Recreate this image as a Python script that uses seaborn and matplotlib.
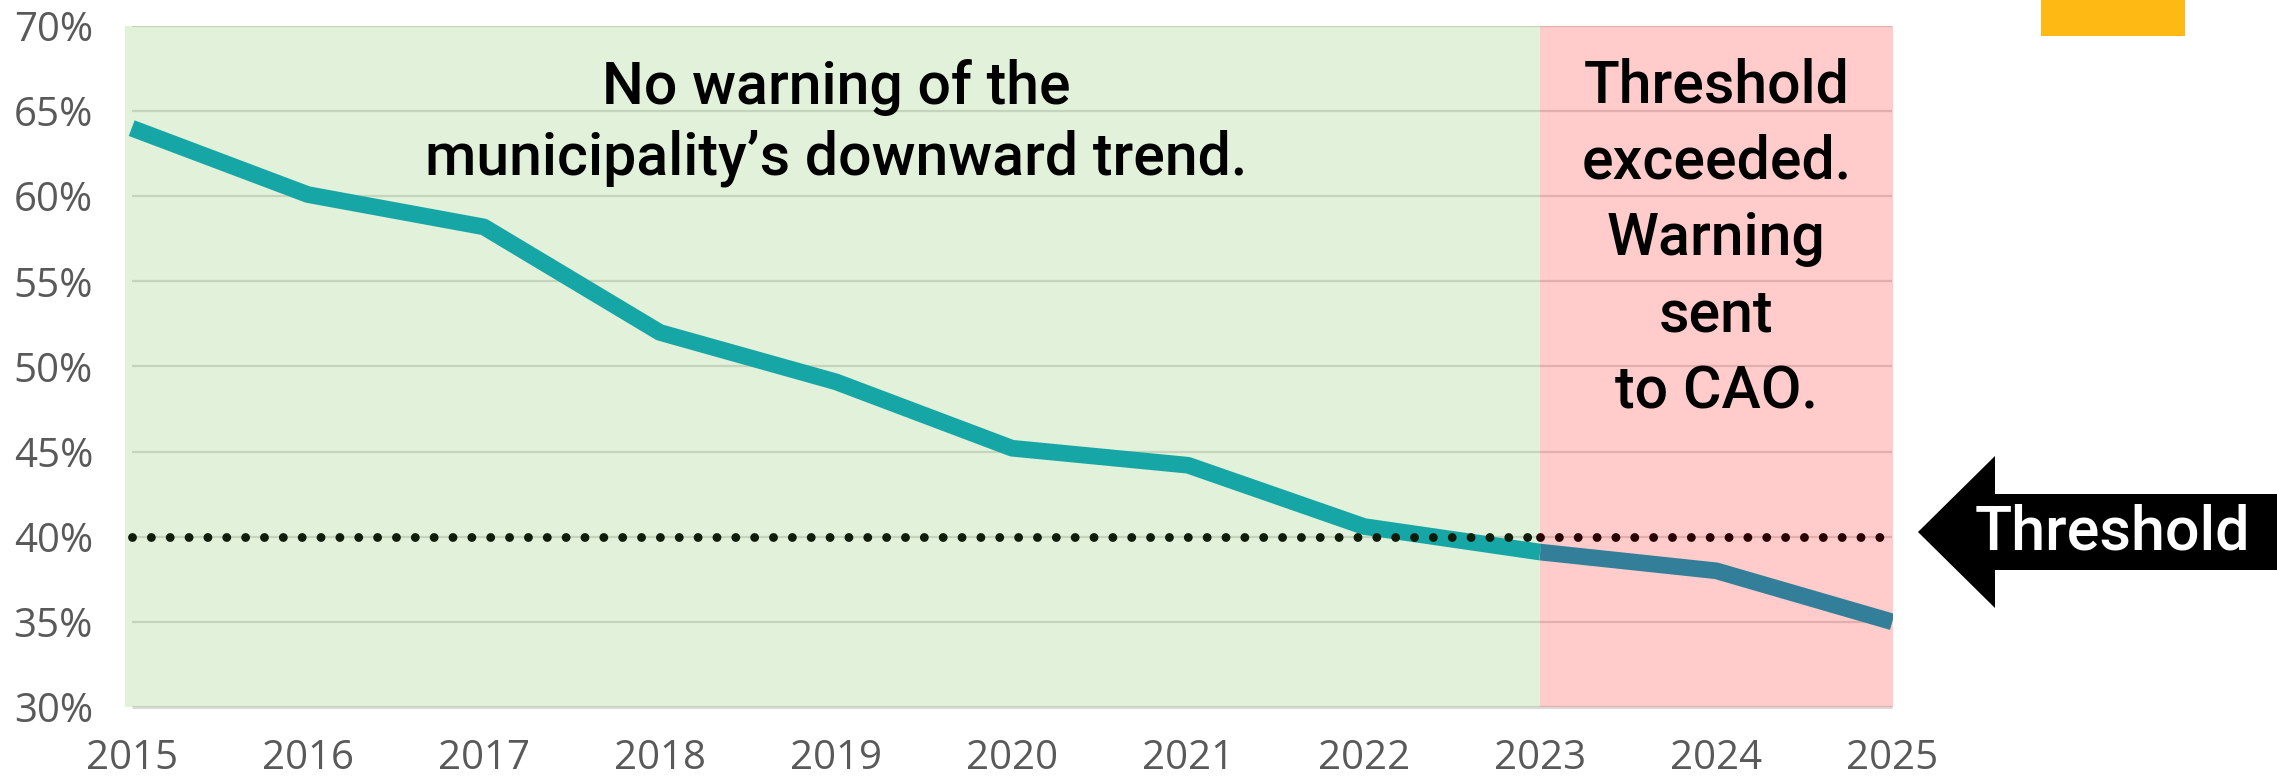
import numpy as np
import pandas as pd
import matplotlib
matplotlib.use("Agg")
import matplotlib.pyplot as plt
from matplotlib.patches import Polygon, Rectangle
import seaborn as sns

# data
years = [2015, 2016, 2017, 2018, 2019, 2020, 2021, 2022, 2023, 2024, 2025]
share = [64.0, 60.1, 58.2, 52.0, 49.1, 45.2, 44.2, 40.6, 39.1, 38.0, 35.0]
threshold = 40
warn_from = 2023
y_ticks = [30, 35, 40, 45, 50, 55, 60, 65, 70]
note_ok = "No warning of the\nmunicipality\u2019s downward trend."
note_bad = "Threshold\nexceeded.\nWarning\nsent\nto CAO."
arrow_label = "Threshold"

df = pd.DataFrame({"year": years, "share": share})
ok_part = df[df["year"] <= warn_from]
bad_part = df[df["year"] >= warn_from]

sns.set_theme(style="white")
plt.rcParams["font.family"] = ["Roboto", "DejaVu Sans"]

W, H = 2277, 780
fig = plt.figure(figsize=(W / 100, H / 100), dpi=100)
ax = fig.add_axes([125 / W, 1 - 707 / H, (1893 - 125) / W, (707 - 26) / H])

x0, x1 = years[0] - 0.038, years[-1] + 0.004
ax.set_xlim(x0, x1)
ax.set_ylim(y_ticks[0], y_ticks[-1])

# gridlines (under the shaded zones)
ax.hlines(y_ticks[1:], years[0], years[-1], color="#d9d9d9", lw=1.6, zorder=1)
ax.hlines(y_ticks[0], years[0], years[-1], color="#d9d9d9", lw=2.2, zorder=1, clip_on=False)

# shaded zones
ax.axvspan(x0, warn_from, color=(134 / 255, 197 / 255, 101 / 255), alpha=0.24, lw=0, zorder=2)
ax.axvspan(warn_from, x1, color=(1.0, 38 / 255, 38 / 255), alpha=0.24, lw=0, zorder=2)

# the trend line, two colours
sns.lineplot(data=ok_part, x="year", y="share", ax=ax, color="#17a6a6", lw=12,
             solid_capstyle="butt", solid_joinstyle="round", zorder=3, legend=False)
sns.lineplot(data=bad_part, x="year", y="share", ax=ax, color="#337f99", lw=12,
             solid_capstyle="butt", solid_joinstyle="round", zorder=3, legend=False)

# dotted threshold
ax.plot([years[0], warn_from], [threshold, threshold], color="#0f1c0a", lw=6.4,
        dashes=(0.001, 2.12), dash_capstyle="round", zorder=4)
ax.plot([warn_from, years[-1] - 0.03], [threshold, threshold], color="#280202", lw=6.4,
        dashes=(0.001, 2.12), dash_capstyle="round", zorder=4)

for s in ax.spines.values():
    s.set_visible(False)
ax.grid(False)

ax.set_xticks(years)
ax.set_xticklabels([str(y) for y in years])
ax.set_yticks(y_ticks)
ax.set_yticklabels([f"{v}%" for v in y_ticks])
ax.tick_params(axis="x", direction="inout", length=18, width=1.5, color="#d9d9d9",
               pad=14, labelsize=29, labelcolor="#595959")
ax.tick_params(axis="y", length=0, pad=23, labelsize=29, labelcolor="#595959")
for lab in ax.get_xticklabels() + ax.get_yticklabels():
    lab.set_fontfamily(["Open Sans", "DejaVu Sans"])
ax.set_xlabel("")
ax.set_ylabel("")

ax.text(2019.0, 64.3, note_ok, ha="center", va="center", fontsize=42.5,
        fontweight="medium", color="black", linespacing=1.3, zorder=5)
ax.text(2024.0, 57.5, note_bad, ha="center", va="center", fontsize=42.5,
        fontweight="medium", color="black", linespacing=1.43, zorder=5)

# block arrow pointing at the threshold
pts = [(1918, 532), (1995, 456), (1995, 494), (W, 494), (W, 570), (1995, 570), (1995, 608)]
fig.patches.append(Polygon([(x / W, 1 - y / H) for x, y in pts], closed=True,
                           transform=fig.transFigure, facecolor="black", edgecolor="none"))
fig.text(2112 / W, 1 - 533 / H, arrow_label, ha="center", va="center",
         fontsize=44, fontweight="medium", color="white")

# yellow tab at the top
fig.patches.append(Rectangle((2041 / W, 1 - 36 / H), (2185 - 2041) / W, 36 / H,
                             transform=fig.transFigure, facecolor="#ffb915", edgecolor="none"))

fig.savefig("out.png", dpi=100)
